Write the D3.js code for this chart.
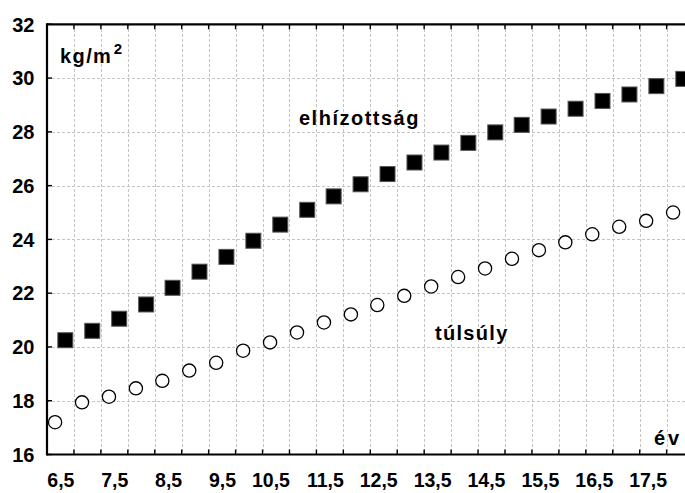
<!DOCTYPE html>
<html>
<head>
<meta charset="utf-8">
<script src="https://cdn.jsdelivr.net/npm/d3@7"></script>
<style>
  html, body { margin: 0; padding: 0; background: #fff; }
  svg { display: block; }
  text { font-family: "Liberation Sans", Arial, sans-serif; font-weight: bold; fill: #000; }
</style>
</head>
<body>
<svg id="chart" width="685" height="493"></svg>
<script>
// BMI thresholds by age (kg/m²): overweight ("túlsúly") and obesity ("elhízottság")
const obeseAge = [6.34, 6.84, 7.34, 7.84, 8.33, 8.83, 9.33, 9.83, 10.33, 10.83, 11.32, 11.82,
                  12.32, 12.82, 13.32, 13.82, 14.32, 14.81, 15.31, 15.81, 16.31, 16.81, 17.31, 17.81];
const obeseBMI = [20.25, 20.6, 21.05, 21.58, 22.2, 22.8, 23.35, 23.95, 24.55, 25.1, 25.6, 26.05,
                  26.43, 26.86, 27.23, 27.59, 27.98, 28.26, 28.57, 28.86, 29.15, 29.39, 29.7, 29.97];
const overAge  = [6.15, 6.65, 7.15, 7.65, 8.14, 8.64, 9.14, 9.64, 10.14, 10.64, 11.14, 11.64,
                  12.13, 12.63, 13.13, 13.63, 14.13, 14.63, 15.13, 15.62, 16.12, 16.62, 17.12, 17.62];
const overBMI  = [17.2, 17.94, 18.15, 18.46, 18.74, 19.12, 19.41, 19.86, 20.17, 20.54, 20.91, 21.21,
                  21.56, 21.9, 22.25, 22.6, 22.92, 23.28, 23.6, 23.89, 24.19, 24.47, 24.69, 25.0];

const xLabelValues = [6.5, 7.5, 8.5, 9.5, 10.5, 11.5, 12.5, 13.5, 14.5, 15.5, 16.5, 17.5];
const xGridValues  = [6.5, 7, 7.5, 8, 8.5, 9, 9.5, 10, 10.5, 11, 11.5, 12, 12.5, 13, 13.5, 14,
                      14.5, 15, 15.5, 16, 16.5, 17, 17.5];
const yTickValues  = [16, 18, 20, 22, 24, 26, 28, 30, 32];

const svg = d3.select("#chart");
const plotLeft = 47, plotTop = 24.3, plotBottom = 454.5;

const x = d3.scaleLinear().domain([6, 18]).range([plotLeft, plotLeft + 12 * 53.88]);
const y = d3.scaleLinear().domain([16, 32]).range([plotBottom, plotTop]);
const plotRight = x(18);

const fmt = v => String(v).replace(".", ",");

// grid
const grid = svg.append("g").attr("stroke", "#c4c4c4").attr("stroke-width", 1)
  .attr("stroke-dasharray", "3,2").attr("shape-rendering", "crispEdges");
grid.selectAll("line.v").data(xGridValues).join("line")
  .attr("x1", d => Math.round(x(d)) + 0.5).attr("x2", d => Math.round(x(d)) + 0.5)
  .attr("y1", plotTop).attr("y2", plotBottom);
grid.selectAll("line.h").data(yTickValues.filter(v => v > 16 && v < 32)).join("line")
  .attr("y1", d => Math.round(y(d)) + 0.5).attr("y2", d => Math.round(y(d)) + 0.5)
  .attr("x1", plotLeft).attr("x2", plotRight);

// inward tick marks
const ticks = svg.append("g").attr("stroke", "#000").attr("stroke-width", 1.4);
ticks.selectAll("line.b").data(xGridValues).join("line")
  .attr("x1", d => x(d)).attr("x2", d => x(d)).attr("y1", plotBottom).attr("y2", plotBottom - 5);
ticks.selectAll("line.t").data(xGridValues).join("line")
  .attr("x1", d => x(d)).attr("x2", d => x(d)).attr("y1", plotTop).attr("y2", plotTop + 5);
ticks.selectAll("line.l").data(yTickValues).join("line")
  .attr("x1", plotLeft).attr("x2", plotLeft + 5).attr("y1", d => y(d)).attr("y2", d => y(d));

// frame
const frame = svg.append("g").attr("stroke", "#000").attr("stroke-width", 2.2).attr("fill", "none");
frame.append("line").attr("x1", plotLeft).attr("x2", plotRight).attr("y1", plotTop).attr("y2", plotTop);
frame.append("line").attr("x1", plotLeft).attr("x2", plotRight).attr("y1", plotBottom).attr("y2", plotBottom);
frame.append("line").attr("x1", plotLeft).attr("x2", plotLeft).attr("y1", plotTop - 1).attr("y2", plotBottom + 1);

// tick labels
svg.append("g").selectAll("text").data(yTickValues).join("text")
  .attr("x", 34.5).attr("y", d => y(d)).attr("dy", "0.36em")
  .attr("text-anchor", "end").attr("font-size", 20)
  .text(d => d);
svg.append("g").selectAll("text").data(xLabelValues).join("text")
  .attr("x", d => x(d) + 0.5).attr("y", 487)
  .attr("text-anchor", "end").attr("font-size", 19.5)
  .text(fmt);

// series markers
const sq = 15;
svg.append("g").selectAll("rect").data(obeseAge.map((a, i) => [a, obeseBMI[i]])).join("rect")
  .attr("x", d => x(d[0]) - sq / 2).attr("y", d => y(d[1]) - sq / 2)
  .attr("width", sq).attr("height", sq)
  .attr("fill", "#000").attr("stroke", "#555").attr("stroke-width", 1);
svg.append("g").selectAll("circle").data(overAge.map((a, i) => [a, overBMI[i]])).join("circle")
  .attr("cx", d => x(d[0])).attr("cy", d => y(d[1])).attr("r", 6.6)
  .attr("fill", "#fff").attr("stroke", "#000").attr("stroke-width", 1.3);

// annotations
const unit = svg.append("text").attr("x", 60).attr("y", 63)
  .attr("font-size", 20).attr("letter-spacing", 1.4);
unit.append("tspan").text("kg/m");
unit.append("tspan").attr("font-size", 15).attr("dx", 1.5).attr("dy", -9).text("2");

svg.append("text").attr("x", 299).attr("y", 125).attr("font-size", 20)
  .attr("letter-spacing", 1.5).text("elhízottság");
svg.append("text").attr("x", 435).attr("y", 340).attr("font-size", 20)
  .attr("letter-spacing", 1.3).text("túlsúly");
svg.append("text").attr("x", 654).attr("y", 444.5).attr("font-size", 20)
  .attr("letter-spacing", 2.8).text("év");
</script>
</body>
</html>
